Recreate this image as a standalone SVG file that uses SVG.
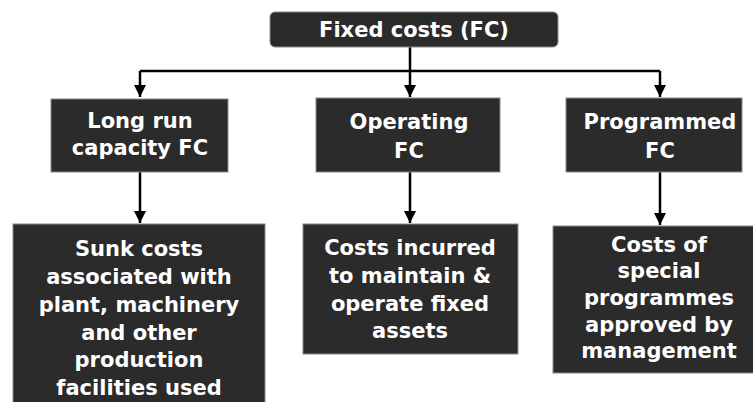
<svg xmlns="http://www.w3.org/2000/svg" width="753" height="402" viewBox="0 0 753 402">
  <style>
    .box { fill: #2b2b2b; stroke: #8a8a8a; stroke-width: 1; }
    .lbl { fill: #ffffff; font-family: "DejaVu Sans", "Liberation Sans", sans-serif; font-weight: bold; font-size: 21px; text-anchor: middle; }
    .wire { fill: none; stroke: #000000; stroke-width: 2.5; }
  </style>
  <defs>
    <marker id="arrow" viewBox="0 0 10 10" refX="10" refY="5" markerWidth="5" markerHeight="5" markerUnits="strokeWidth" orient="auto">
      <path d="M0,0 L10,5 L0,10 z" fill="#000000"/>
    </marker>
  </defs>

  <rect width="753" height="402" fill="#ffffff"/>

  <g id="connectors">
    <path class="wire" d="M410,47 V71"/>
    <path class="wire" d="M140,71 H660"/>
    <path class="wire" d="M140,71 V97" marker-end="url(#arrow)"/>
    <path class="wire" d="M410,71 V97" marker-end="url(#arrow)"/>
    <path class="wire" d="M660,71 V97" marker-end="url(#arrow)"/>
    <path class="wire" d="M140,172 V223" marker-end="url(#arrow)"/>
    <path class="wire" d="M410,172 V223" marker-end="url(#arrow)"/>
    <path class="wire" d="M660,172 V225" marker-end="url(#arrow)"/>
  </g>

  <g id="fixed-costs">
    <rect class="box" x="270" y="12" width="288" height="35" rx="5"/>
    <text class="lbl" x="414" y="37">Fixed costs (FC)</text>
  </g>

  <g id="long-run">
    <rect class="box" x="51" y="99" width="177" height="73"/>
    <text class="lbl" x="140" y="128">Long run</text>
    <text class="lbl" x="140" y="155">capacity FC</text>
  </g>

  <g id="operating">
    <rect class="box" x="316" y="98" width="184" height="74"/>
    <text class="lbl" x="409" y="129">Operating</text>
    <text class="lbl" x="409" y="158">FC</text>
  </g>

  <g id="programmed">
    <rect class="box" x="566" y="98" width="176" height="74"/>
    <text class="lbl" x="660" y="129">Programmed</text>
    <text class="lbl" x="660" y="158">FC</text>
  </g>

  <g id="sunk-costs">
    <rect class="box" x="13" y="224" width="252" height="185"/>
    <text class="lbl" x="139" y="256">Sunk costs</text>
    <text class="lbl" x="139" y="284">associated with</text>
    <text class="lbl" x="139" y="312">plant, machinery</text>
    <text class="lbl" x="139" y="340">and other</text>
    <text class="lbl" x="139" y="367">production</text>
    <text class="lbl" x="139" y="395">facilities used</text>
  </g>

  <g id="operating-costs">
    <rect class="box" x="303" y="224" width="215" height="130"/>
    <text class="lbl" x="410" y="255">Costs incurred</text>
    <text class="lbl" x="410" y="283">to maintain &amp;</text>
    <text class="lbl" x="410" y="311">operate fixed</text>
    <text class="lbl" x="410" y="338">assets</text>
  </g>

  <g id="special-programmes">
    <rect class="box" x="553" y="226" width="205" height="147"/>
    <text class="lbl" x="659" y="252">Costs of</text>
    <text class="lbl" x="659" y="278">special</text>
    <text class="lbl" x="659" y="305">programmes</text>
    <text class="lbl" x="659" y="332">approved by</text>
    <text class="lbl" x="659" y="358">management</text>
  </g>
</svg>
